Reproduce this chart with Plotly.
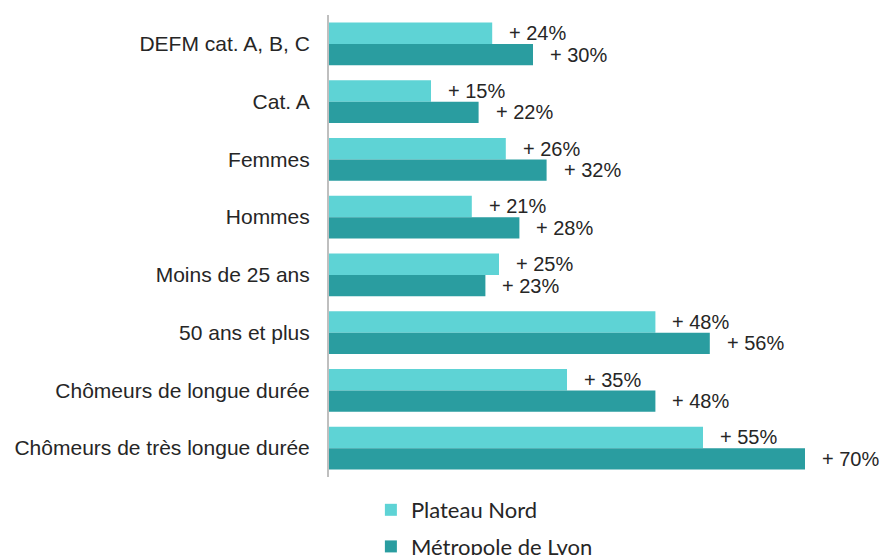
import plotly.graph_objects as go

# Categories of job seekers (top to bottom)
categories = [
    "DEFM cat. A, B, C",
    "Cat. A",
    "Femmes",
    "Hommes",
    "Moins de 25 ans",
    "50 ans et plus",
    "Chômeurs de longue durée",
    "Chômeurs de très longue durée",
]

# Change in %, per territory
plateau_nord = [24, 15, 26, 21, 25, 48, 35, 55]
metropole_lyon = [30, 22, 32, 28, 23, 56, 48, 70]

series_names = ["Plateau Nord", "Métropole de Lyon"]
series_colors = ["#5ED3D5", "#2A9DA0"]

TEXT_COLOR = "#262626"
LABEL_FONT = "Liberation Sans, Arial, sans-serif"

fig = go.Figure()
for name, values, color in zip(series_names, [plateau_nord, metropole_lyon], series_colors):
    fig.add_trace(
        go.Bar(
            name=name,
            y=categories,
            x=values,
            orientation="h",
            marker=dict(color=color, line=dict(width=0)),
            legendgroup=name,
        )
    )

# Value labels placed to the right of each bar
bar_shift = 10.7
for values, shift in zip([plateau_nord, metropole_lyon], [bar_shift, -bar_shift]):
    for cat, v in zip(categories, values):
        fig.add_annotation(
            x=v,
            y=cat,
            text=f"+ {v}%",
            showarrow=False,
            xanchor="left",
            yanchor="middle",
            xshift=15,
            yshift=shift,
            font=dict(family=LABEL_FONT, size=20, color=TEXT_COLOR),
        )

fig.update_layout(
    width=881,
    height=555,
    margin=dict(l=329, r=8, t=15, b=78, autoexpand=False),
    paper_bgcolor="white",
    plot_bgcolor="white",
    barmode="group",
    bargap=0.26,
    bargroupgap=0,
    showlegend=True,
    legend=dict(
        orientation="v",
        x=0.077,
        xanchor="left",
        y=-0.026,
        yanchor="top",
        font=dict(family="Lato, sans-serif", size=22, color=TEXT_COLOR),
        tracegroupgap=5,
        itemwidth=30,
    ),
    xaxis=dict(
        range=[0, 80],
        showgrid=False,
        zeroline=False,
        showticklabels=False,
        showline=False,
        fixedrange=True,
    ),
    yaxis=dict(
        autorange="reversed",
        showgrid=False,
        showline=True,
        linecolor="#BFBFBF",
        linewidth=2,
        ticks="",
        ticklabelstandoff=13,
        tickfont=dict(family=LABEL_FONT, size=21, color=TEXT_COLOR),
    ),
)

fig.write_html("out.html")
